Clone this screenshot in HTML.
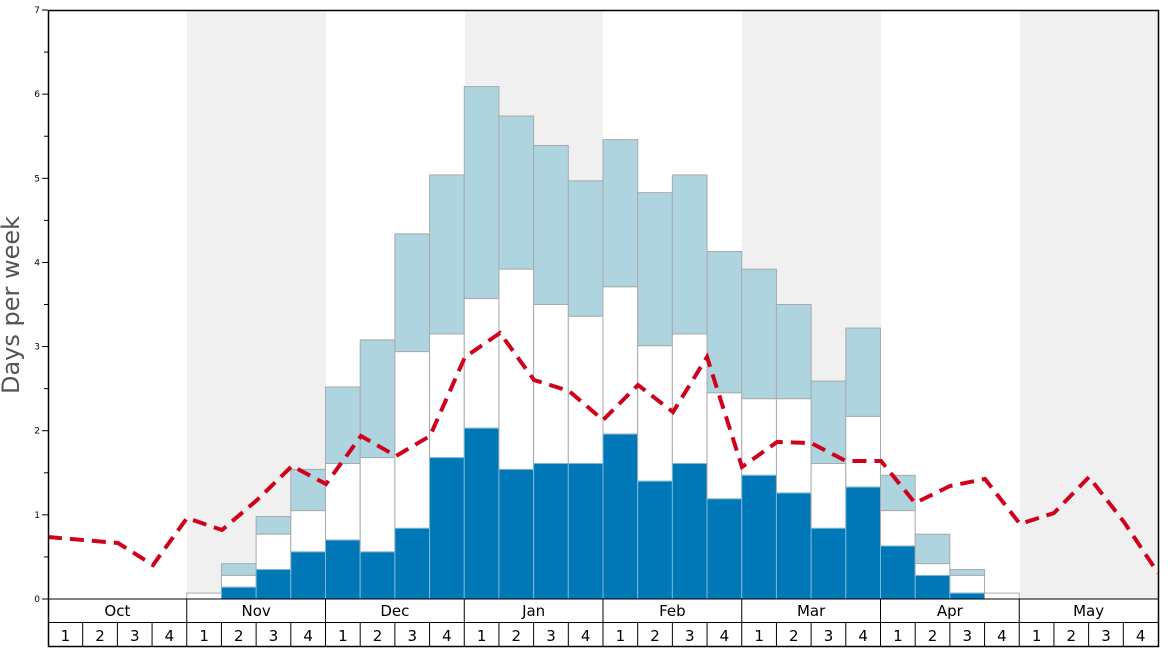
<!DOCTYPE html>
<html><head><meta charset="utf-8"><style>
html,body{margin:0;padding:0;background:#fff;}
svg{display:block;font-family:"DejaVu Sans","Liberation Sans",sans-serif;}
</style></head><body>
<svg width="1168" height="648" viewBox="0 0 1168 648" xmlns="http://www.w3.org/2000/svg">
<rect x="0" y="0" width="1168" height="648" fill="#fff"/>
<g fill="#f0f0f0">
<rect x="187" y="10" width="139" height="589"/>
<rect x="465" y="10" width="138" height="589"/>
<rect x="742" y="10" width="139" height="589"/>
<rect x="1020" y="10" width="138" height="589"/>
</g>
<g id="bars" stroke="#aaa" stroke-width="1"></g>
<polyline fill="none" stroke="#d0021b" stroke-width="4" stroke-dasharray="14,8" points="48,537 83,540 118,543 153,565 187,518 222,530 257,500 292,466 326,484 361,436 396,456 430,436 465,357 500,333 534,380 569,391 603,420 638,385 673,412 707,357 742,467 777,442 811,443 846,461 881,461 915,503 950,486 985,479 1020,524 1054,513 1089,477 1124,522 1158,573"/>
<rect x="48.5" y="10.5" width="1110" height="636" fill="none" stroke="#000" stroke-width="1.5"/>
<line x1="48" y1="599" x2="1158" y2="599" stroke="#000"/>
<line x1="48" y1="622.5" x2="1158" y2="622.5" stroke="#000"/>
<g id="grid" stroke="#000"></g>
<g id="ticks" stroke="#000"></g>
<g id="labs" font-size="9" text-anchor="end" fill="#000"></g>
<g id="months" font-size="15" text-anchor="middle" fill="#000"></g>
<text transform="translate(19,305) rotate(-90)" font-size="24" text-anchor="middle" fill="#555">Days per week</text>
<script>
(function(){
var ns="http://www.w3.org/2000/svg";
function el(p,t,a,txt){var e=document.createElementNS(ns,t);for(var k in a)e.setAttribute(k,a[k]);if(txt!==undefined)e.textContent=txt;document.getElementById(p).appendChild(e);}
var x0=48,w=1110/32,y0=599,s=84.14;
var d=[null,null,null,null,[0,0.07,0.07],[0.14,0.28,0.42],[0.35,0.77,0.98],[0.56,1.05,1.54],
[0.70,1.61,2.52],[0.56,1.68,3.08],[0.84,2.94,4.34],[1.68,3.15,5.04],
[2.03,3.57,6.09],[1.54,3.92,5.74],[1.61,3.50,5.39],[1.61,3.36,4.97],
[1.96,3.71,5.46],[1.40,3.01,4.83],[1.61,3.15,5.04],[1.19,2.45,4.13],
[1.47,2.38,3.92],[1.26,2.38,3.50],[0.84,1.61,2.59],[1.33,2.17,3.22],
[0.63,1.05,1.47],[0.28,0.42,0.77],[0.07,0.28,0.35],[0,0.07,0.07]];
for(var i=0;i<32;i++){var v=d[i];if(!v)continue;var x=x0+i*w;
 if(v[2]>v[1])el("bars","rect",{x:x,y:y0-v[2]*s,width:w,height:(v[2]-v[1])*s,fill:"#aed4e0"});
 if(v[1]>v[0])el("bars","rect",{x:x,y:y0-v[1]*s,width:w,height:(v[1]-v[0])*s,fill:"#fff"});
 if(v[0]>0)el("bars","rect",{x:x,y:y0-v[0]*s,width:w,height:v[0]*s,fill:"#0077b6",stroke:"#7fb6d6"});
}
for(var k=0;k<=7;k++){var y=y0-k*s;el("ticks","line",{x1:42,x2:48,y1:y,y2:y});el("labs","text",{x:40,y:y+3},k);
 if(k<7){var y2=y0-(k+0.5)*s;el("ticks","line",{x1:44,x2:48,y1:y2,y2:y2});}}
var m=["Oct","Nov","Dec","Jan","Feb","Mar","Apr","May"];
for(var j=0;j<8;j++){var xm=x0+j*4*w;if(j>0)el("grid","line",{x1:xm,x2:xm,y1:599,y2:647});
 el("months","text",{x:xm+2*w,y:616},m[j]);
 for(var q=0;q<4;q++){var xw=xm+q*w;if(q>0)el("grid","line",{x1:xw,x2:xw,y1:622,y2:647});el("months","text",{x:xw+w/2,y:641},q+1);}}
})();
</script>
</svg>
</body></html>
